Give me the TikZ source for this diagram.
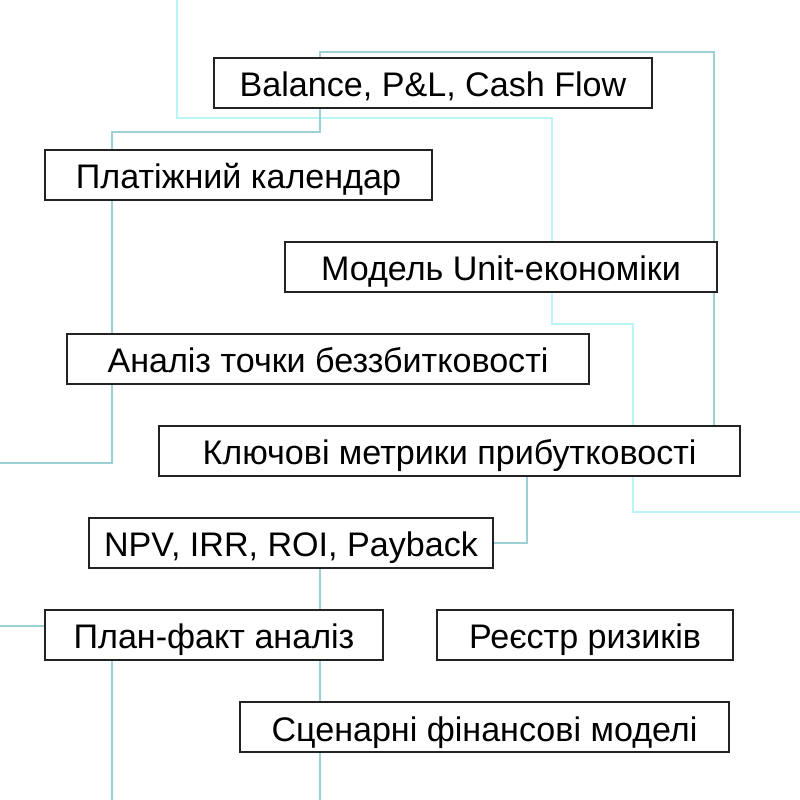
\documentclass[tikz,border=0pt]{standalone}
\usepackage{fontspec}
\setmainfont{Liberation Sans}
\usetikzlibrary{backgrounds}
\definecolor{linkcol}{RGB}{156,207,214}
\definecolor{tracecol}{RGB}{184,244,248}
\definecolor{boxline}{RGB}{34,34,34}

\begin{document}
\begin{tikzpicture}[
  font=\fontsize{9.7}{11}\selectfont,
  item/.style={draw=boxline, fill=white, line width=0.6pt,
               text height=3.9mm, text depth=1.1mm,
               minimum height=5mm, inner xsep=1.5mm, inner ysep=0pt},
  link/.style={draw=linkcol, line width=0.6pt},
  trace/.style={draw=tracecol, line width=0.6pt}
]
  \useasboundingbox (0,0) rectangle (8,8);

  \node[item, minimum width=4.38cm] (bal)  at (4.33,7.17)  {Balance, P\&L, Cash Flow};
  \node[item, minimum width=3.87cm] (pay)  at (2.385,6.25) {Платіжний календар};
  \node[item, minimum width=4.32cm] (unit) at (5.01,5.33)  {Модель Unit-економіки};
  \node[item, minimum width=5.22cm] (brk)  at (3.28,4.41)  {Аналіз точки беззбитковості};
  \node[item, minimum width=5.81cm] (key)  at (4.495,3.49) {Ключові метрики прибутковості};
  \node[item, minimum width=4.04cm] (npv)  at (2.91,2.57)  {NPV, IRR, ROI, Payback};
  \node[item, minimum width=3.38cm] (plan) at (2.14,1.65)  {План-факт аналіз};
  \node[item, minimum width=2.96cm] (risk) at (5.85,1.65)  {Реєстр ризиків};
  \node[item, minimum width=4.89cm] (scn)  at (4.845,0.73) {Сценарні фінансові моделі};

  \coordinate (t0) at (1.77,8);
  \coordinate (t1) at (5.52,6.82);
  \coordinate (t2) at (6.33,4.76);
  \coordinate (t3) at (8,2.88);
  \coordinate (b1) at (3.2,7.48);
  \coordinate (b2) at (7.14,7.48);
  \coordinate (c1) at (1.12,6.68);
  \coordinate (c2) at (0,3.37);
  \coordinate (d1) at (5.27,0);
  \coordinate (e1) at (3.2,0);
  \coordinate (f1) at (0,1.74);
  \coordinate (g1) at (1.12,0);

  \begin{scope}[on background layer]
    \draw[trace] (t0) |- (t1) |- (t2) |- (t3);
    \draw[link] (bal.north -| b1) -- (b1) -- (b2) -- (key.north -| b2);
    \draw[link] (bal.south -| b1) |- (c1) -- (pay.north -| c1);
    \draw[link] (pay.south -| c1) |- (c2);
    \draw[link] (key.south -| d1) |- (npv.east);
    \draw[link] (npv.south -| e1) -- (plan.north -| e1);
    \draw[link] (plan.south -| e1) -- (scn.north -| e1);
    \draw[link] (scn.south -| e1) -- (e1);
    \draw[link] (f1) -- (f1 -| plan.west);
    \draw[link] (plan.south -| g1) -- (g1);
  \end{scope}
\end{tikzpicture}
\end{document}
